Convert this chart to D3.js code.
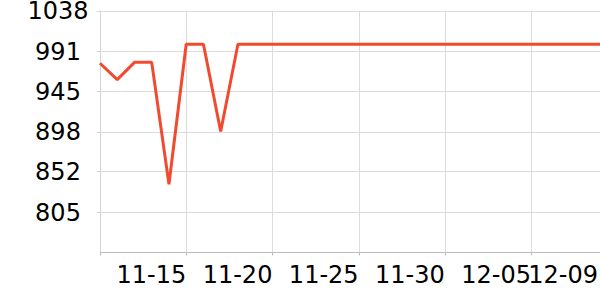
<!DOCTYPE html>
<html>
<head>
<meta charset="utf-8">
<script src="https://cdn.jsdelivr.net/npm/d3@7"></script>
<style>
  html, body { margin: 0; padding: 0; background: #fff; }
  svg { display: block; }
  text { font-family: "DejaVu Sans", sans-serif; fill: #000; }
</style>
</head>
<body>
<svg id="chart" width="600" height="300"></svg>
<script>
const dates = ["11-10","11-11","11-12","11-13","11-14","11-15","11-16","11-17","11-18","11-19",
               "11-20","11-21","11-22","11-23","11-24","11-25","11-26","11-27","11-28","11-29",
               "11-30","12-01","12-02","12-03","12-04","12-05","12-06","12-07","12-08","12-09"];
const values = [977, 958, 978, 978, 837, 999, 999, 898, 999, 999,
                999, 999, 999, 999, 999, 999, 999, 999, 999, 999,
                999, 999, 999, 999, 999, 999, 999, 999, 999, 999];
const yDomain = [758.6, 1038];
const yTicks = [805, 852, 898, 945, 991, 1038];
const xTicks = ["11-10","11-15","11-20","11-25","11-30","12-05","12-09"];
const xLabels = ["", "11-15","11-20","11-25","11-30","12-05","12-09"];

const svg = d3.select("#chart");
const mLeft = 100, mRight = 600, mTop = 10.5, mBottom = 252;

const x = d3.scalePoint().domain(dates).range([mLeft, mRight]);
const y = d3.scaleLinear().domain(yDomain).range([mBottom, mTop]);

// horizontal grid
svg.append("g").selectAll("line").data(yTicks).join("line")
  .attr("x1", mLeft).attr("x2", mRight)
  .attr("y1", d => Math.round(y(d)) + 0.5).attr("y2", d => Math.round(y(d)) + 0.5)
  .attr("stroke", "#dcdcdc").attr("stroke-width", 1);

// vertical grid
svg.append("g").selectAll("line").data(xTicks.slice(1)).join("line")
  .attr("x1", d => Math.round(x(d)) + 0.5).attr("x2", d => Math.round(x(d)) + 0.5)
  .attr("y1", mTop).attr("y2", mBottom)
  .attr("stroke", "#dcdcdc").attr("stroke-width", 1);

// y axis line and ticks
svg.append("line").attr("x1", mLeft + 0.5).attr("x2", mLeft + 0.5)
  .attr("y1", mTop).attr("y2", mBottom).attr("stroke", "#d4d4d4");
svg.append("g").selectAll("line").data(yTicks).join("line")
  .attr("x1", mLeft - 3).attr("x2", mLeft)
  .attr("y1", d => Math.round(y(d)) + 0.5).attr("y2", d => Math.round(y(d)) + 0.5)
  .attr("stroke", "#d4d4d4");

// y labels
svg.append("g").selectAll("text").data(yTicks).join("text")
  .attr("x", 58).attr("y", d => y(d)).attr("dy", "0.36em")
  .attr("text-anchor", "middle").attr("font-size", 24)
  .text(d => d);

// x axis line and ticks
svg.append("line").attr("x1", mLeft).attr("x2", mRight)
  .attr("y1", mBottom + 0.5).attr("y2", mBottom + 0.5).attr("stroke", "#bbbbbb");
svg.append("g").selectAll("line").data(xTicks).join("line")
  .attr("x1", d => Math.round(x(d)) + 0.5).attr("x2", d => Math.round(x(d)) + 0.5)
  .attr("y1", mBottom).attr("y2", mBottom + 3.5)
  .attr("stroke", "#bbbbbb");

// x labels (anchored at their right end)
svg.append("g").selectAll("text").data(xTicks.map((d, i) => ({d, l: xLabels[i]}))).join("text")
  .attr("x", o => Math.min(x(o.d), mRight - 2)).attr("y", 283)
  .attr("text-anchor", "end").attr("font-size", 24)
  .text(o => o.l);

// line
const line = d3.line().x((d, i) => x(dates[i])).y(d => y(d));
svg.append("path").datum(values)
  .attr("d", line)
  .attr("fill", "none")
  .attr("stroke", "#f04b2f")
  .attr("stroke-width", 3)
  .attr("stroke-linejoin", "bevel");
</script>
</body>
</html>
